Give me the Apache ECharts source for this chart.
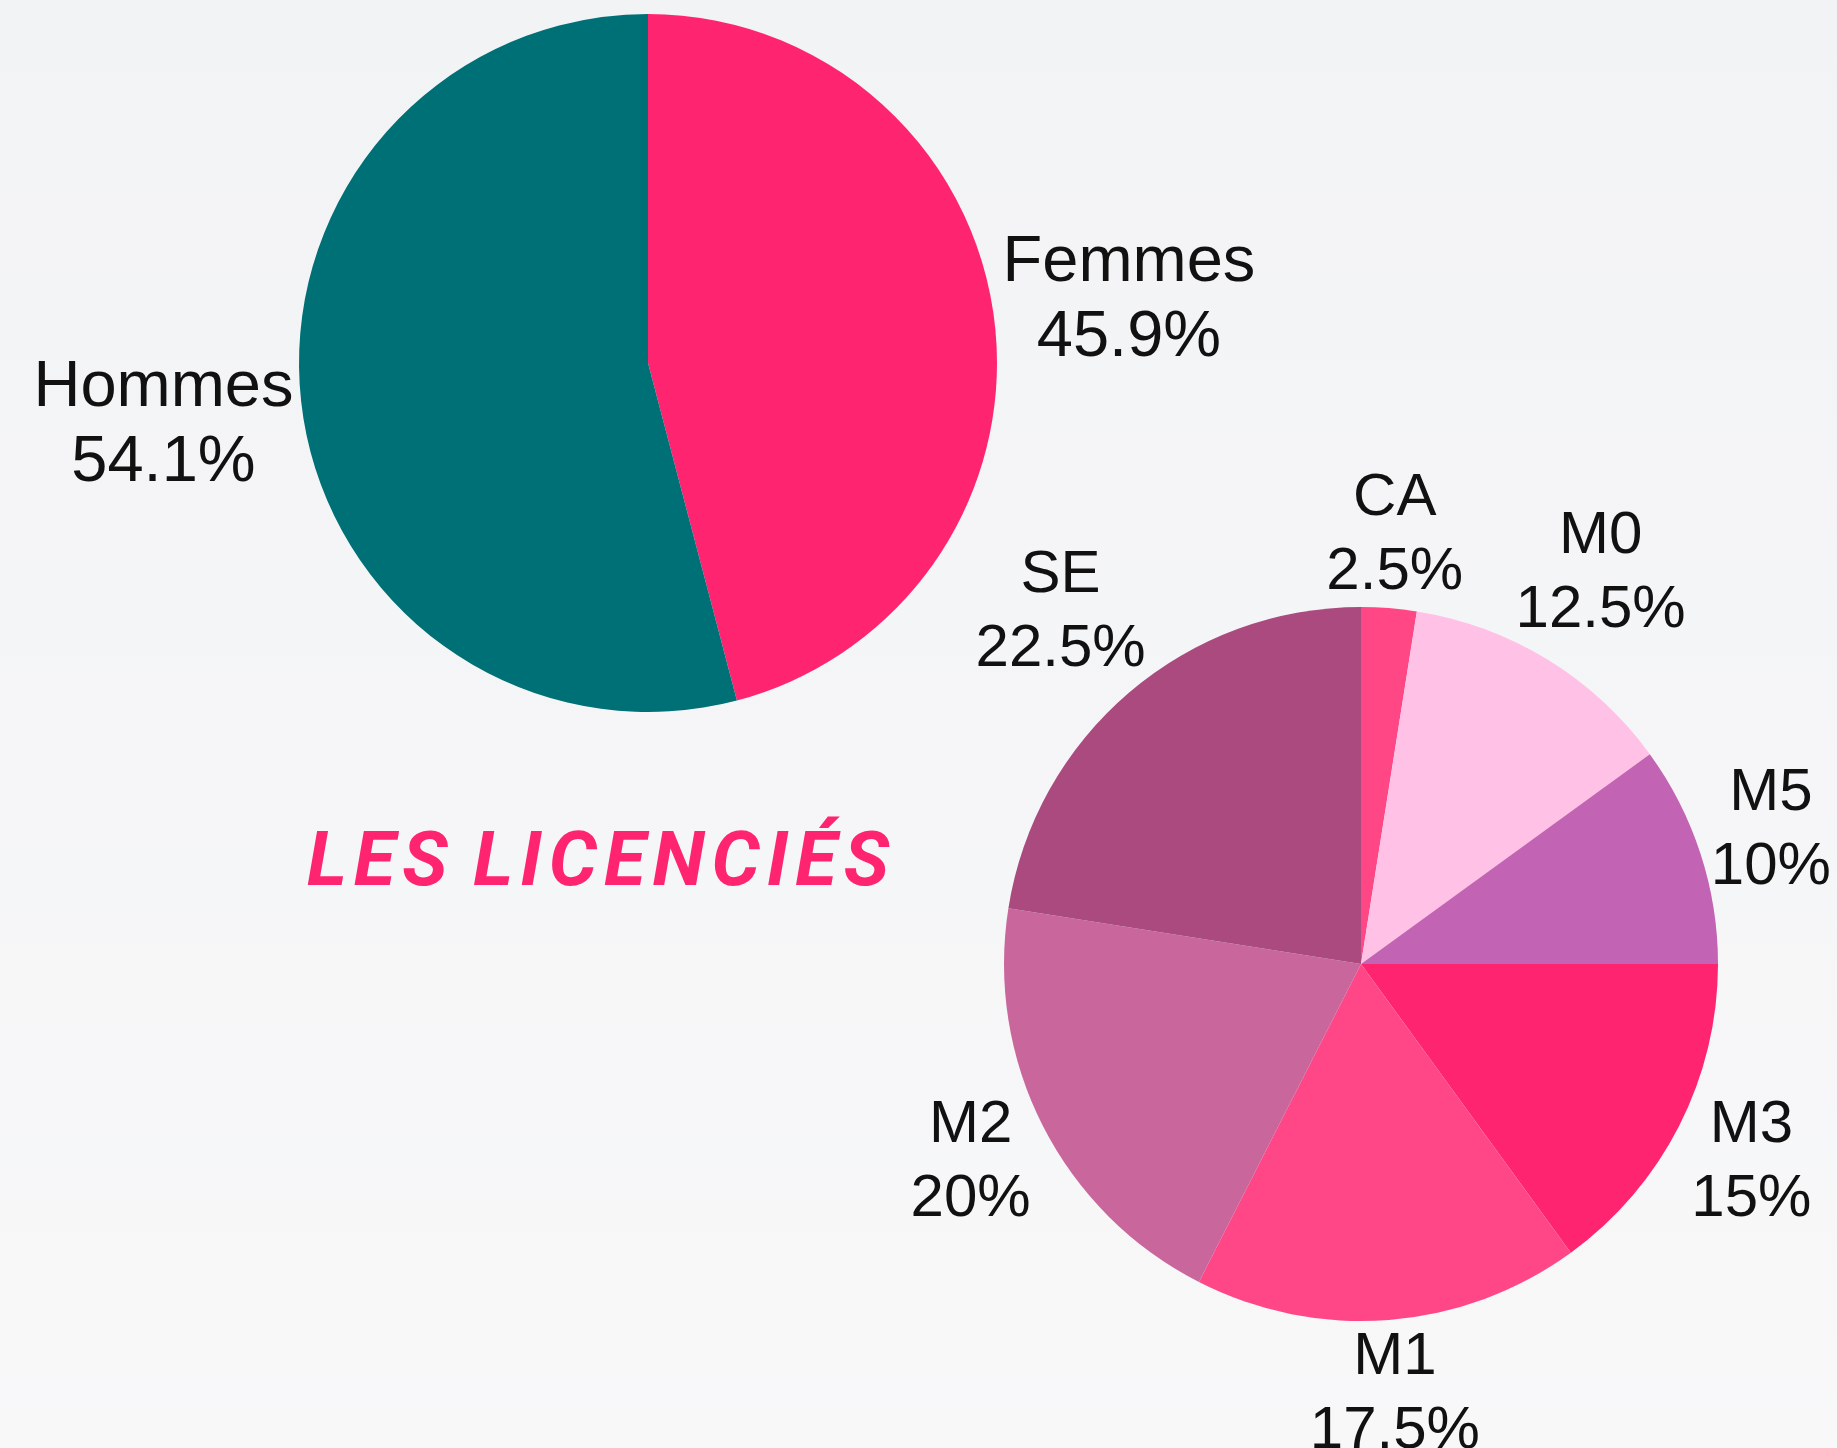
<!DOCTYPE html>
<html>
<head>
<meta charset="utf-8">
<script src="https://cdn.jsdelivr.net/npm/echarts@6/dist/echarts.min.js"></script>
<style>
html, body { margin: 0; padding: 0; }
#main { width: 1837px; height: 1448px; }
</style>
</head>
<body>
<div id="main"></div>
<script>
// répartition hommes / femmes
var genreNames = ['Femmes', 'Hommes'];
var genreValues = [45.9, 54.1];
var genreColors = ['#FF2470', '#007077'];

// répartition par catégorie
var catNames = ['CA', 'M0', 'M5', 'M3', 'M1', 'M2', 'SE'];
var catValues = [2.5, 12.5, 10, 15, 17.5, 20, 22.5];
var catColors = ['#FF4786', '#FFC2E6', '#C263B4', '#FF2470', '#FF4787', '#C9669C', '#AB4A7E'];

var titleText = 'LES LICENCIÉS';

var pie1 = {center: [648, 363], radius: 349, gap: 1};
var pie2 = {center: [1361, 964], radius: 357, gap: -6};

function toData(names, values, colors) {
    var out = [];
    for (var i = 0; i < names.length; i++) {
        out.push({name: names[i], value: values[i], itemStyle: {color: colors[i]}});
    }
    return out;
}

// place le libellé centré sur l'angle milieu de la part, juste à l'extérieur du disque
function labelPlacer(values, pie) {
    var total = 0;
    for (var i = 0; i < values.length; i++) total += values[i];
    return function (p) {
        var before = 0;
        for (var j = 0; j < p.dataIndex; j++) before += values[j];
        var mid = (before + values[p.dataIndex] / 2) / total * Math.PI * 2;
        var s = Math.sin(mid), c = Math.cos(mid);
        var w = p.labelRect.width, h = p.labelRect.height;
        var d = pie.radius + pie.gap + w / 2 * Math.abs(s) + h / 2 * Math.abs(c);
        return {
            x: pie.center[0] + d * s,
            y: pie.center[1] - d * c,
            align: 'center',
            verticalAlign: 'middle'
        };
    };
}

function fmtPct(p) {
    return p.name + '\n' + p.value + '%';
}

// espacement des lettres du titre : une lettre par bloc rich
function spaced(str) {
    return str.split('').map(function (ch) {
        return ch === ' ' ? '{sp| }' : '{c|' + ch + '}';
    }).join('');
}

var chart = echarts.init(document.getElementById('main'));
chart.setOption({
    backgroundColor: {
        type: 'linear', x: 0, y: 0, x2: 0, y2: 1,
        colorStops: [{offset: 0, color: '#f2f3f5'}, {offset: 1, color: '#f8f8f9'}]
    },
    animation: false,
    graphic: [{
        type: 'text',
        x: 598,
        y: 866,
        style: {
            text: spaced(titleText),
            align: 'center',
            verticalAlign: 'middle',
            rich: {
                c: {
                    fill: '#FF2470',
                    font: 'italic bold 76px Roboto',
                    padding: [0, 3.5, 0, 3.5]
                },
                sp: {
                    font: 'italic bold 76px Roboto'
                }
            }
        }
    }],
    series: [{
        name: 'genre',
        type: 'pie',
        center: pie1.center,
        radius: pie1.radius,
        startAngle: 90,
        clockwise: true,
        avoidLabelOverlap: false,
        silent: true,
        data: toData(genreNames, genreValues, genreColors),
        label: {
            show: true,
            position: 'outside',
            formatter: fmtPct,
            color: '#111',
            fontFamily: 'Liberation Sans',
            fontSize: 65,
            lineHeight: 75
        },
        labelLine: {show: false},
        labelLayout: labelPlacer(genreValues, pie1)
    }, {
        name: 'categorie',
        type: 'pie',
        center: pie2.center,
        radius: pie2.radius,
        startAngle: 90,
        clockwise: true,
        avoidLabelOverlap: false,
        silent: true,
        data: toData(catNames, catValues, catColors),
        label: {
            show: true,
            position: 'outside',
            formatter: fmtPct,
            color: '#111',
            fontFamily: 'Liberation Sans',
            fontSize: 60,
            lineHeight: 74
        },
        labelLine: {show: false},
        labelLayout: labelPlacer(catValues, pie2)
    }]
});
</script>
</body>
</html>
